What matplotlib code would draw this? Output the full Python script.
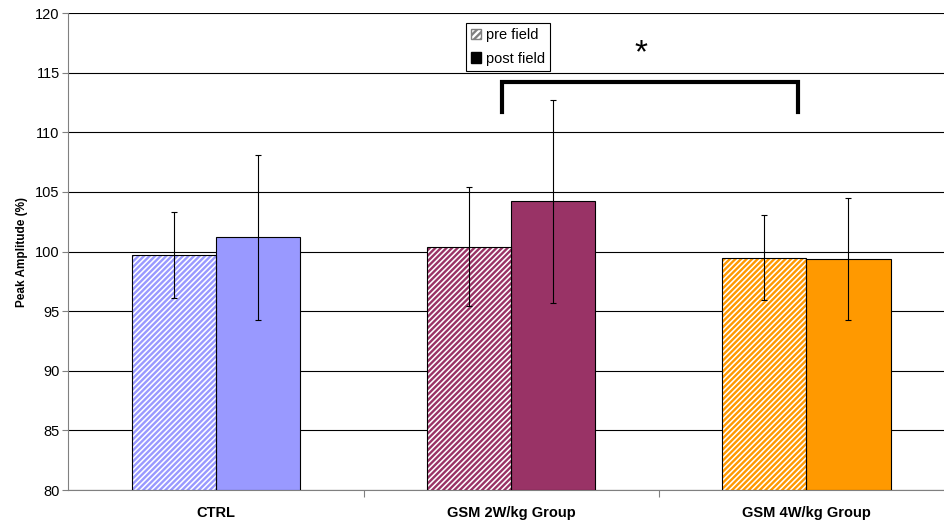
import matplotlib
matplotlib.use("Agg")
import matplotlib.pyplot as plt
from matplotlib.patches import Patch
import numpy as np

categories = ["CTRL", "GSM 2W/kg Group", "GSM 4W/kg Group"]
pre_values = [99.7, 100.4, 99.5]
pre_errors = [3.6, 5.0, 3.6]
post_values = [101.2, 104.2, 99.4]
post_errors = [6.9, 8.5, 5.1]
colors = ["#9999FF", "#993366", "#FF9900"]
series_labels = ["pre field", "post field"]

plt.rcParams['font.family'] = ['Liberation Sans', 'DejaVu Sans']
plt.rcParams['hatch.linewidth'] = 1.7

fig = plt.figure(figsize=(9.45, 5.23), dpi=100)
ax = fig.add_axes([0.072, 0.063, 0.94, 0.912])

x = np.arange(len(categories))
w = 0.285

for i in range(len(categories)):
    # pre: hatched
    ax.bar(x[i] - w / 2, pre_values[i] - 80, w, bottom=80, facecolor="white",
           edgecolor=colors[i], hatch="//////", linewidth=0, zorder=3)
    ax.bar(x[i] - w / 2, pre_values[i] - 80, w, bottom=80, fill=False,
           edgecolor="black", linewidth=0.8, zorder=4)
    ax.errorbar(x[i] - w / 2, pre_values[i], yerr=pre_errors[i], fmt="none",
                ecolor="black", elinewidth=0.8, capsize=2.5, capthick=0.8, zorder=5)
    # post: solid
    ax.bar(x[i] + w / 2, post_values[i] - 80, w, bottom=80, color=colors[i],
           edgecolor="black", linewidth=0.8, zorder=3)
    ax.errorbar(x[i] + w / 2, post_values[i], yerr=post_errors[i], fmt="none",
                ecolor="black", elinewidth=0.8, capsize=2.5, capthick=0.8, zorder=5)

ax.set_ylim(80, 120)
ax.set_yticks(np.arange(80, 121, 5))
ax.set_xlim(-0.502, 2.508)
ax.set_xticks([0.5, 1.5], minor=False)
ax.set_xticklabels([])
ax.tick_params(axis='x', length=5, color="#808080", direction="out")
for i, c in enumerate(categories):
    ax.text(x[i], 78.65, c, ha="center", va="top", fontsize=10.5, fontweight="bold")

ax.grid(axis="y", color="black", linewidth=0.8, zorder=0)
ax.set_axisbelow(True)
for s in ["top", "right"]:
    ax.spines[s].set_visible(False)
ax.spines["left"].set_color("#808080")
ax.spines["bottom"].set_color("#808080")
ax.tick_params(axis='y', labelsize=10.5, length=4, color="#808080", pad=2)
ax.set_ylabel("Peak Amplitude (%)", fontsize=8.5, fontweight="bold", labelpad=5)

# significance bracket
ax.plot([0.97, 0.97, 1.97, 1.97], [111.7, 114.2, 114.2, 111.7],
        color="black", linewidth=3, solid_joinstyle="miter", zorder=6, clip_on=False)
ax.text(1.44, 116.6, "*", ha="center", va="center", fontsize=24)

handles = [Patch(facecolor="white", edgecolor="#808080", hatch="/////"),
           Patch(facecolor="black", edgecolor="black")]
leg = ax.legend(handles, series_labels, loc="upper left", bbox_to_anchor=(0.4475, 0.979),
                borderaxespad=0, fontsize=10.5, frameon=True, fancybox=False,
                edgecolor="black", handlelength=0.7, handleheight=0.7,
                handletextpad=0.35, borderpad=0.35, labelspacing=0.65, framealpha=1)
leg.get_frame().set_linewidth(0.8)

fig.savefig("out.png", dpi=100)
